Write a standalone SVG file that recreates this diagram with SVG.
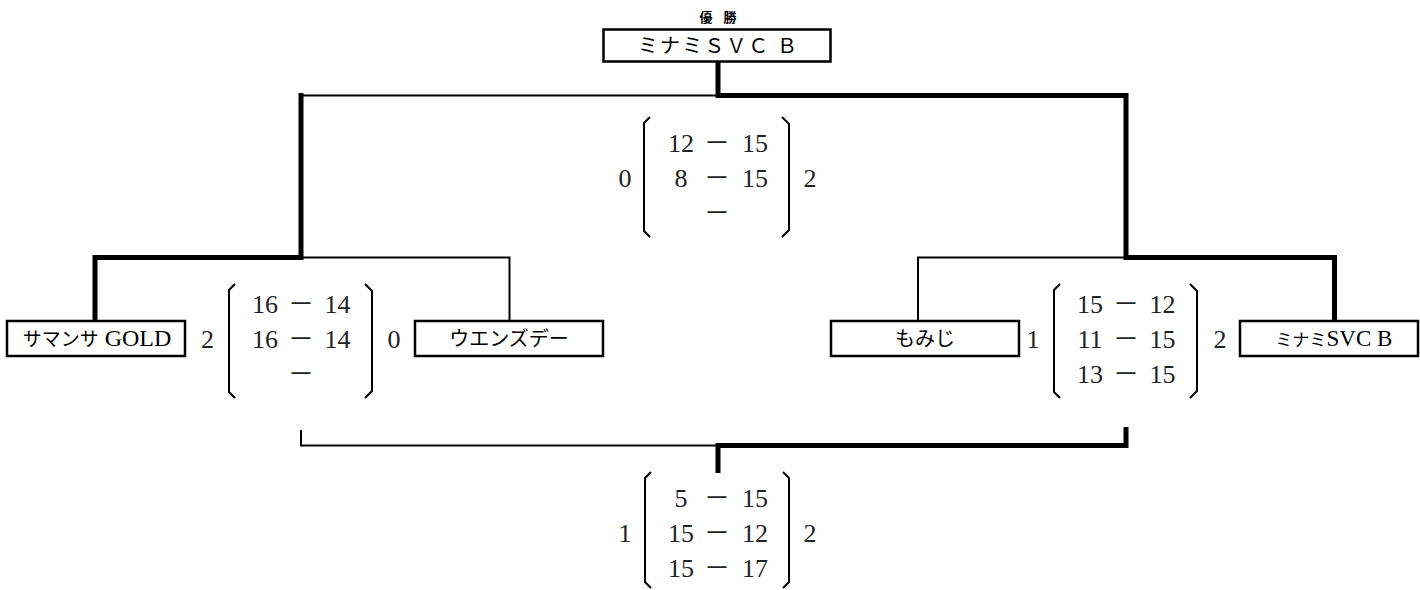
<svg xmlns="http://www.w3.org/2000/svg" width="1420" height="590" viewBox="0 0 1420 590">
<style>
.box{fill:#fff;stroke:#000;stroke-width:2.5}
.thick{fill:none;stroke:#000;stroke-width:5;stroke-linejoin:miter;stroke-linecap:butt}
.thin{fill:none;stroke:#000;stroke-width:2;stroke-linejoin:miter}
.par{fill:none;stroke:#000;stroke-width:2;stroke-linejoin:miter}
.jp{font-family:"Noto Sans CJK JP","Liberation Serif",sans-serif;font-size:20px;fill:#000}
.en{font-family:"Liberation Serif","Noto Sans CJK JP",serif;fill:#000}
.sc{font-family:"Liberation Serif","Noto Sans CJK JP",serif;font-size:26px;fill:#222;text-anchor:middle}
.ds{font-family:"Noto Sans CJK JP",sans-serif;font-size:26px;fill:#222;text-anchor:middle}
</style>
<rect width="1420" height="590" fill="#fff"/>

<g id="connectors">
  <path class="thin" d="M301 95.5 H718"/>
  <path class="thick" d="M718 61 V95.5 H1126 V257.5 H1334.5 V321"/>
  <path class="thick" d="M301 93 V257.5 H95 V321"/>
  <path class="thin" d="M301 257.5 H509.5 V321"/>
  <path class="thin" d="M918 321 V257.5 H1126"/>
  <path class="thin" d="M301 430 V445.5 H718"/>
  <path class="thick" d="M1126 427 V445.5 H718 V473"/>
</g>

<g id="champion">
  <text x="718" y="22" text-anchor="middle" style="font-family:'Noto Sans CJK JP',sans-serif;font-size:13px;font-weight:bold;word-spacing:8px">優 勝</text>
  <rect class="box" x="603.5" y="29.5" width="227" height="32"/>
  <text class="jp" x="717.5" y="53" text-anchor="middle" textLength="159" lengthAdjust="spacing">ミナミＳＶＣ Ｂ</text>
</g>

<g id="team-samansa">
  <rect class="box" x="7" y="321" width="178" height="35"/>
  <text x="97" y="346" text-anchor="middle"><tspan class="jp" style="font-size:19px">サマンサ</tspan><tspan class="en" style="font-size:24px"> GOLD</tspan></text>
</g>

<g id="team-wednesday">
  <rect class="box" x="415" y="321" width="188" height="35"/>
  <text class="jp" x="509" y="346" text-anchor="middle">ウエンズデー</text>
</g>

<g id="team-momiji">
  <rect class="box" x="831" y="321" width="188" height="35"/>
  <text class="jp" x="925" y="346" text-anchor="middle">もみじ</text>
</g>

<g id="team-minami">
  <rect class="box" x="1240" y="321" width="178" height="35"/>
  <text x="1334" y="346" text-anchor="middle"><tspan class="jp" style="font-size:17px">ミナミ</tspan><tspan class="en" style="font-size:23px">SVC B</tspan></text>
</g>

<g id="score-final">
  <text class="sc" x="625" y="187">0</text>
  <path class="par" d="M650 117 L644 123 V231 L650 237"/>
  <text class="sc" x="681" y="152">12</text><text class="ds" x="717" y="152">－</text><text class="sc" x="755" y="152">15</text>
  <text class="sc" x="681" y="187">8</text><text class="ds" x="717" y="187">－</text><text class="sc" x="755" y="187">15</text>
  <text class="ds" x="717" y="222">－</text>
  <path class="par" d="M782 117 L789 124 V230 L782 237"/>
  <text class="sc" x="810" y="187">2</text>
</g>

<g id="score-semi-left">
  <text class="sc" x="207.5" y="348">2</text>
  <path class="par" d="M235 284 L229 290 V392 L235 398"/>
  <text class="sc" x="265" y="313">16</text><text class="ds" x="301" y="313">－</text><text class="sc" x="337.5" y="313">14</text>
  <text class="sc" x="265" y="348">16</text><text class="ds" x="301" y="348">－</text><text class="sc" x="337.5" y="348">14</text>
  <text class="ds" x="301" y="383">－</text>
  <path class="par" d="M365 284 L372 291 V391 L365 398"/>
  <text class="sc" x="394" y="348">0</text>
</g>

<g id="score-semi-right">
  <text class="sc" x="1033" y="348">1</text>
  <path class="par" d="M1060 284 L1054 290 V392 L1060 398"/>
  <text class="sc" x="1090" y="313">15</text><text class="ds" x="1126" y="313">－</text><text class="sc" x="1162.5" y="313">12</text>
  <text class="sc" x="1090" y="348">11</text><text class="ds" x="1126" y="348">－</text><text class="sc" x="1162.5" y="348">15</text>
  <text class="sc" x="1090" y="383">13</text><text class="ds" x="1126" y="383">－</text><text class="sc" x="1162.5" y="383">15</text>
  <path class="par" d="M1190 284 L1197 291 V391 L1190 398"/>
  <text class="sc" x="1220" y="348">2</text>
</g>

<g id="score-third">
  <text class="sc" x="625" y="542">1</text>
  <path class="par" d="M651 472 L645 478 V582 L651 588"/>
  <text class="sc" x="681" y="507">5</text><text class="ds" x="717" y="507">－</text><text class="sc" x="755" y="507">15</text>
  <text class="sc" x="681" y="542">15</text><text class="ds" x="717" y="542">－</text><text class="sc" x="755" y="542">12</text>
  <text class="sc" x="681" y="577">15</text><text class="ds" x="717" y="577">－</text><text class="sc" x="755" y="577">17</text>
  <path class="par" d="M783 472 L789 478 V582 L783 588"/>
  <text class="sc" x="810" y="542">2</text>
</g>
</svg>
